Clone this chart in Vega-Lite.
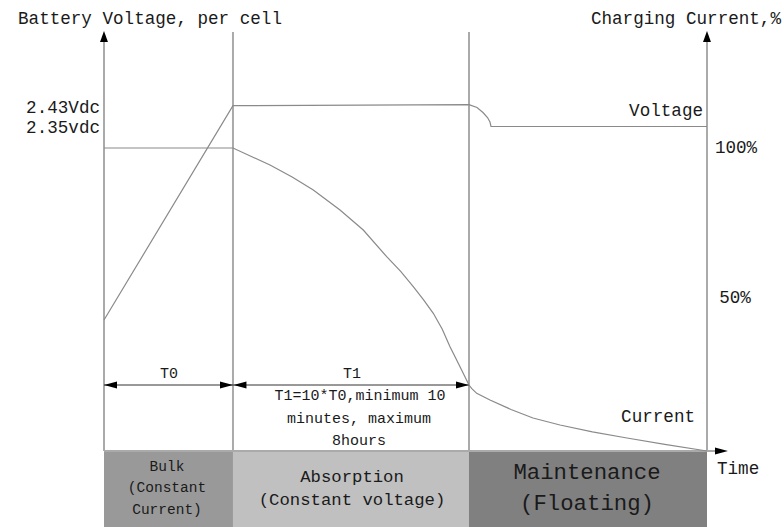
{
  "$schema": "https://vega.github.io/schema/vega-lite/v6.json",
  "width": 784,
  "height": 527,
  "padding": 0,
  "autosize": "none",
  "background": "white",
  "config": {"view": {"stroke": null}},
  "datasets": {
    "phases": [
      {"phase": "Bulk", "t": 0, "t2": 21.39, "lo": -25.08, "hi": 0},
      {"phase": "Absorption", "t": 21.39, "t2": 60.53, "lo": -25.08, "hi": 0},
      {"phase": "Maintenance", "t": 60.53, "t2": 100, "lo": -25.08, "hi": 0}
    ],
    "rules": [
      {"kind": "axis", "t": 0, "t2": 0, "level": 0, "level2": 137},
      {"kind": "axis", "t": 100, "t2": 100, "level": 0, "level2": 137},
      {"kind": "axis", "t": 21.39, "t2": 21.39, "level": 0, "level2": 138.28},
      {"kind": "axis", "t": 60.53, "t2": 60.53, "level": 0, "level2": 138.28},
      {"kind": "axis", "t": 0, "t2": 101.6, "level": 0, "level2": 0},
      {"kind": "dim", "t": 0, "t2": 60.53, "level": 21.78, "level2": 21.78}
    ],
    "curves": [
      {"series": "Voltage", "order": 1, "t": 0, "level": 43.23},
      {"series": "Voltage", "order": 2, "t": 21.39, "level": 113.96},
      {"series": "Voltage", "order": 3, "t": 60.53, "level": 114.29},
      {"series": "Voltage", "order": 4, "t": 61.86, "level": 113.37},
      {"series": "Voltage", "order": 5, "t": 62.85, "level": 111.72},
      {"series": "Voltage", "order": 6, "t": 63.6, "level": 110.07},
      {"series": "Voltage", "order": 7, "t": 64.01, "level": 108.58},
      {"series": "Voltage", "order": 8, "t": 64.18, "level": 107.1},
      {"series": "Voltage", "order": 9, "t": 100, "level": 107.1},
      {"series": "Current", "order": 1, "t": 0, "level": 100},
      {"series": "Current", "order": 2, "t": 21.39, "level": 100},
      {"series": "Current", "order": 3, "t": 27.53, "level": 94.39},
      {"series": "Current", "order": 4, "t": 31.2, "level": 90.4},
      {"series": "Current", "order": 5, "t": 34.71, "level": 86.14},
      {"series": "Current", "order": 6, "t": 39.14, "level": 79.54},
      {"series": "Current", "order": 7, "t": 43.0, "level": 72.94},
      {"series": "Current", "order": 8, "t": 46.88, "level": 64.13},
      {"series": "Current", "order": 9, "t": 49.2, "level": 59.3},
      {"series": "Current", "order": 10, "t": 51.29, "level": 54.22},
      {"series": "Current", "order": 11, "t": 53.0, "level": 49.9},
      {"series": "Current", "order": 12, "t": 54.61, "level": 45.45},
      {"series": "Current", "order": 13, "t": 56.1, "level": 40.2},
      {"series": "Current", "order": 14, "t": 57.38, "level": 34.42},
      {"series": "Current", "order": 15, "t": 58.3, "level": 30.8},
      {"series": "Current", "order": 16, "t": 59.04, "level": 27.82},
      {"series": "Current", "order": 17, "t": 60.53, "level": 21.78},
      {"series": "Current", "order": 18, "t": 61.0, "level": 20.6},
      {"series": "Current", "order": 19, "t": 61.81, "level": 19.03},
      {"series": "Current", "order": 20, "t": 64.01, "level": 16.83},
      {"series": "Current", "order": 21, "t": 67.5, "level": 13.7},
      {"series": "Current", "order": 22, "t": 71.14, "level": 10.89},
      {"series": "Current", "order": 23, "t": 75.62, "level": 8.58},
      {"series": "Current", "order": 24, "t": 81.0, "level": 6.3},
      {"series": "Current", "order": 25, "t": 86.73, "level": 4.29},
      {"series": "Current", "order": 26, "t": 93.0, "level": 2.2},
      {"series": "Current", "order": 27, "t": 100, "level": 0}
    ],
    "arrows": [
      {"dir": "up", "t": 0, "level": 136.8},
      {"dir": "up", "t": 100, "level": 136.8},
      {"dir": "right", "t": 102.4, "level": 0},
      {"dir": "left", "t": 1.08, "level": 21.78},
      {"dir": "right", "t": 20.31, "level": 21.78},
      {"dir": "left", "t": 22.55, "level": 21.78},
      {"dir": "right", "t": 59.45, "level": 21.78}
    ],
    "labels": [
      {"role": "main_left", "text": "Battery Voltage, per cell", "t": -14.26, "level": 142.57},
      {"role": "main_right", "text": "Charging Current,%", "t": 112.27, "level": 142.57},
      {"role": "main_right", "text": "2.43Vdc", "t": -0.66, "level": 113.2},
      {"role": "main_right", "text": "2.35vdc", "t": -0.66, "level": 106.6},
      {"role": "main_right", "text": "Voltage", "t": 99.34, "level": 112.21},
      {"role": "main_right", "text": "Current", "t": 98.01, "level": 11.22},
      {"role": "main_center", "text": "100%", "t": 104.81, "level": 100},
      {"role": "main_center", "text": "50%", "t": 104.64, "level": 50.5},
      {"role": "main_left", "text": "Time", "t": 101.66, "level": -5.94},
      {"role": "small", "text": "T0", "t": 10.78, "level": 25.74},
      {"role": "small", "text": "T1", "t": 41.13, "level": 25.74},
      {"role": "small", "text": "T1=10*T0,minimum 10", "t": 42.45, "level": 18.48},
      {"role": "small", "text": "minutes, maximum", "t": 42.29, "level": 10.89},
      {"role": "small", "text": "8hours", "t": 42.29, "level": 3.63},
      {"role": "bulk", "text": "Bulk", "t": 10.45, "level": -5.28},
      {"role": "bulk", "text": "(Constant", "t": 10.45, "level": -12.21},
      {"role": "bulk", "text": "Current)", "t": 10.45, "level": -19.47},
      {"role": "absorption", "text": "Absorption", "t": 41.13, "level": -8.58},
      {"role": "absorption", "text": "(Constant voltage)", "t": 41.13, "level": -16.17},
      {"role": "maintenance", "text": "Maintenance", "t": 80.1, "level": -6.93},
      {"role": "maintenance", "text": "(Floating)", "t": 80.1, "level": -17.16}
    ]
  },
  "encoding": {
    "x": {"field": "t", "type": "quantitative", "axis": null, "scale": {"domain": [-17.247, 112.77], "nice": false, "zero": false}},
    "y": {"field": "level", "type": "quantitative", "axis": null, "scale": {"domain": [-25.08, 148.84], "nice": false, "zero": false}}
  },
  "layer": [
    {
      "data": {"name": "phases"},
      "mark": {"type": "rect"},
      "encoding": {
        "x": {"field": "t", "type": "quantitative"},
        "x2": {"field": "t2"},
        "y": {"field": "lo", "type": "quantitative"},
        "y2": {"field": "hi"},
        "color": {"field": "phase", "type": "nominal", "legend": null, "scale": {"domain": ["Bulk", "Absorption", "Maintenance"], "range": ["#999999", "#c0c0c0", "#808080"]}}
      }
    },
    {
      "data": {"name": "rules"},
      "transform": [{"filter": "datum.kind === 'axis'"}],
      "mark": {"type": "rule", "color": "#aaaaaa", "strokeWidth": 2},
      "encoding": {
        "x2": {"field": "t2"},
        "y2": {"field": "level2"}
      }
    },
    {
      "data": {"name": "rules"},
      "transform": [{"filter": "datum.kind === 'dim'"}],
      "mark": {"type": "rule", "color": "#333333", "strokeWidth": 1},
      "encoding": {
        "x2": {"field": "t2"},
        "y2": {"field": "level2"}
      }
    },
    {
      "data": {"name": "curves"},
      "transform": [{"filter": "datum.series === 'Voltage'"}],
      "mark": {"type": "line", "color": "#8a8a8a", "strokeWidth": 1.2, "interpolate": "linear"},
      "encoding": {"order": {"field": "order", "type": "quantitative"}}
    },
    {
      "data": {"name": "curves"},
      "transform": [{"filter": "datum.series === 'Current'"}],
      "mark": {"type": "line", "color": "#8a8a8a", "strokeWidth": 1.2, "interpolate": "linear"},
      "encoding": {"order": {"field": "order", "type": "quantitative"}}
    },
    {
      "data": {"name": "arrows"},
      "mark": {"type": "point", "filled": true, "color": "black", "opacity": 1, "size": 144, "strokeWidth": 0},
      "encoding": {
        "shape": {"field": "dir", "type": "nominal", "legend": null, "scale": {"domain": ["up", "left", "right"], "range": ["M0,-0.92L-0.66,0.92L0.66,0.92Z", "M-1.08,0L1.08,-0.6L1.08,0.6Z", "M1.08,0L-1.08,-0.6L-1.08,0.6Z"]}}
      }
    },
    {
      "data": {"name": "labels"},
      "transform": [{"filter": "datum.role === 'main_left'"}],
      "mark": {"type": "text", "font": "Liberation Mono", "fontSize": 17.6, "align": "left", "baseline": "middle", "color": "#1a1a1a"},
      "encoding": {"text": {"field": "text"}}
    },
    {
      "data": {"name": "labels"},
      "transform": [{"filter": "datum.role === 'main_right'"}],
      "mark": {"type": "text", "font": "Liberation Mono", "fontSize": 17.6, "align": "right", "baseline": "middle", "color": "#1a1a1a"},
      "encoding": {"text": {"field": "text"}}
    },
    {
      "data": {"name": "labels"},
      "transform": [{"filter": "datum.role === 'main_center'"}],
      "mark": {"type": "text", "font": "Liberation Mono", "fontSize": 17.6, "align": "center", "baseline": "middle", "color": "#1a1a1a"},
      "encoding": {"text": {"field": "text"}}
    },
    {
      "data": {"name": "labels"},
      "transform": [{"filter": "datum.role === 'small'"}],
      "mark": {"type": "text", "font": "Liberation Mono", "fontSize": 15, "align": "center", "baseline": "middle", "color": "#1a1a1a"},
      "encoding": {"text": {"field": "text"}}
    },
    {
      "data": {"name": "labels"},
      "transform": [{"filter": "datum.role === 'bulk'"}],
      "mark": {"type": "text", "font": "Liberation Mono", "fontSize": 14.5, "align": "center", "baseline": "middle", "color": "#1a1a1a"},
      "encoding": {"text": {"field": "text"}}
    },
    {
      "data": {"name": "labels"},
      "transform": [{"filter": "datum.role === 'absorption'"}],
      "mark": {"type": "text", "font": "Liberation Mono", "fontSize": 17.3, "align": "center", "baseline": "middle", "color": "#1a1a1a"},
      "encoding": {"text": {"field": "text"}}
    },
    {
      "data": {"name": "labels"},
      "transform": [{"filter": "datum.role === 'maintenance'"}],
      "mark": {"type": "text", "font": "Liberation Mono", "fontSize": 22.3, "align": "center", "baseline": "middle", "color": "#1a1a1a"},
      "encoding": {"text": {"field": "text"}}
    }
  ]
}
